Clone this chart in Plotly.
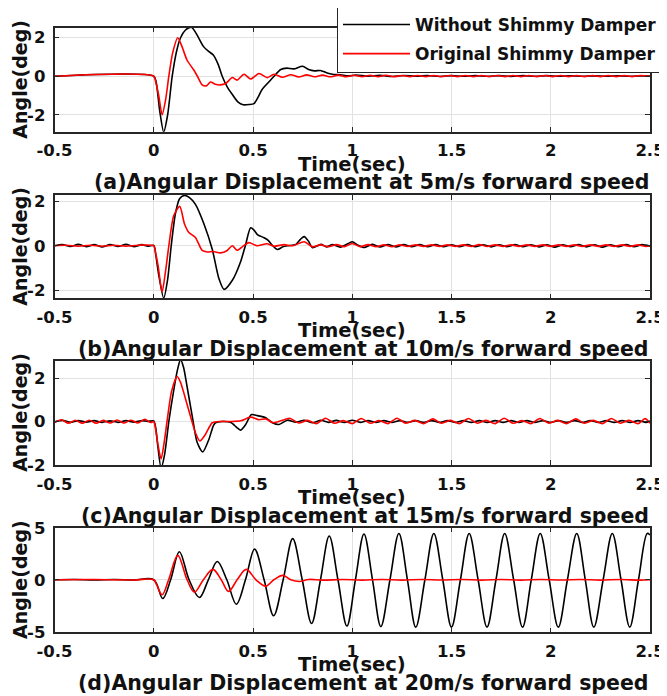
import plotly.graph_objects as go

# the page body has an 8px margin, so the figure is laid out in window pixels minus OFF
WIN_W, WIN_H, OFF = 667, 696, 8
W, H = WIN_W - OFF, WIN_H - OFF
FONT = "DejaVu Sans"

TIME_TICKS = [-0.5, 0, 0.5, 1, 1.5, 2, 2.5]
TIME_LABELS = ["-0.5", "0", "0.5", "1", "1.5", "2", "2.5"]
LEGEND_NAMES = ["Without Shimmy Damper", "Original Shimmy Damper"]
CAPTIONS = [
    "(a)Angular Displacement at 5m/s forward speed",
    "(b)Angular Displacement at 10m/s forward speed",
    "(c)Angular Displacement at 15m/s forward speed",
    "(d)Angular Displacement at 20m/s forward speed",
]
ANGLE_TICKS = [[-2, 0, 2], [-2, 0, 2], [-2, 0, 2], [-5, 0, 5]]
ANGLE_LABELS = [["-2", "0", "2"], ["-2", "0", "2"], ["-2", "0", "2"], ["-5", "0", "5"]]
ANGLE_RANGES = [[-2.88, 2.52], [-2.35, 2.27], [-2.005, 2.8], [-5.05, 5.005]]

# (time [s], angle [deg])
P1_WITHOUT = [
    (-0.5, 0), (0.0, 0), (0.012, -0.3), (0.03, -1.8), (0.05, -2.9), (0.07, -2.0),
    (0.093, 0.0), (0.115, 1.3), (0.135, 2.0), (0.16, 2.4), (0.19, 2.55), (0.215, 2.2),
    (0.25, 1.55), (0.275, 1.3), (0.3, 1.1), (0.325, 0.6), (0.345, 0.0), (0.37, -0.55),
    (0.396, -0.95), (0.425, -1.35), (0.45, -1.48), (0.48, -1.47), (0.505, -1.42),
    (0.525, -1.1), (0.545, -0.7), (0.575, -0.35), (0.606, 0.0), (0.64, 0.35),
    (0.67, 0.42), (0.705, 0.38), (0.75, 0.52), (0.78, 0.35), (0.81, 0.28), (0.84, 0.3),
    (0.87, 0.18), (0.9, 0.1), (0.94, 0.08), (0.98, 0.02), (1.02, 0.06), (1.08, 0.0),
    (1.14, 0.05), (1.2, -0.01), (1.26, 0.04), (1.32, 0.0), (1.38, 0.04), (1.44, -0.01),
    (1.5, 0.03), (1.56, 0.0), (1.62, 0.03), (1.68, 0.0), (1.74, 0.03), (1.8, -0.01),
    (1.86, 0.03), (1.92, 0.0), (1.98, 0.03), (2.04, 0.0), (2.1, 0.02), (2.16, 0.0),
    (2.22, 0.02), (2.28, 0.0), (2.34, 0.02), (2.4, 0.0), (2.46, 0.02), (2.5, 0.01),
]
P1_ORIGINAL = [
    (-0.5, 0), (0.0, 0), (0.01, -0.3), (0.025, -1.0), (0.042, -2.0), (0.06, -1.2),
    (0.076, 0.0), (0.095, 1.2), (0.121, 2.0), (0.14, 1.6), (0.168, 0.83), (0.2, 0.35),
    (0.22, 0.0), (0.244, -0.45), (0.265, -0.5), (0.286, -0.3), (0.31, -0.42),
    (0.335, -0.45), (0.362, -0.38), (0.396, -0.07), (0.42, -0.2), (0.455, 0.1),
    (0.488, -0.14), (0.53, 0.14), (0.572, -0.07), (0.606, 0.1), (0.648, -0.05),
    (0.69, 0.08), (0.73, -0.04), (0.77, 0.07), (0.81, -0.03), (0.85, 0.06), (0.89, -0.03),
    (0.93, 0.06), (0.97, -0.03), (1.01, 0.05), (1.05, -0.03), (1.09, 0.05), (1.13, -0.03),
    (1.17, 0.05), (1.21, -0.03), (1.25, 0.04), (1.29, -0.02), (1.33, 0.04), (1.37, -0.02),
    (1.41, 0.04), (1.45, -0.02), (1.49, 0.04), (1.53, -0.02), (1.57, 0.04), (1.61, -0.02),
    (1.65, 0.04), (1.69, -0.02), (1.73, 0.04), (1.77, -0.02), (1.81, 0.04), (1.85, -0.02),
    (1.89, 0.04), (1.93, -0.02), (1.97, 0.04), (2.01, -0.02), (2.05, 0.04), (2.09, -0.02),
    (2.13, 0.04), (2.17, -0.02), (2.21, 0.04), (2.25, -0.02), (2.29, 0.04), (2.33, -0.02),
    (2.37, 0.04), (2.41, -0.02), (2.45, 0.04), (2.5, 0.0),
]

P2_WITHOUT = [
    (-0.5, 0.0), (-0.46, 0.05), (-0.42, -0.03), (-0.38, 0.06), (-0.34, -0.04), (-0.3, 0.05),
    (-0.26, -0.05), (-0.22, 0.05), (-0.18, -0.03), (-0.14, 0.06), (-0.1, -0.04), (-0.06, 0.05),
    (-0.03, -0.02), (0.0, 0.02), (0.01, -0.4), (0.025, -1.3), (0.05, -2.35), (0.07, -1.5),
    (0.088, 0.0), (0.109, 1.43), (0.13, 2.1), (0.155, 2.25), (0.18, 2.15), (0.21, 1.85),
    (0.253, 0.97), (0.295, -0.17), (0.328, -1.46), (0.354, -1.95), (0.396, -1.54),
    (0.438, -0.7), (0.463, 0.06), (0.488, 0.8), (0.505, 0.7), (0.522, 0.5), (0.556, 0.36),
    (0.575, 0.25), (0.6, 0.0), (0.623, -0.17), (0.65, -0.05), (0.673, 0.0), (0.716, 0.06),
    (0.74, 0.3), (0.758, 0.41), (0.78, 0.2), (0.8, -0.09), (0.842, 0.06), (0.87, -0.05),
    (0.9, 0.05), (0.94, -0.06), (0.98, 0.1), (1.0, 0.18), (1.03, 0.02), (1.06, -0.08),
    (1.1, 0.06), (1.14, -0.05), (1.18, 0.05), (1.22, -0.05), (1.26, 0.05), (1.3, -0.04),
    (1.34, 0.05), (1.38, -0.04), (1.42, 0.05), (1.46, -0.04), (1.5, 0.04), (1.54, -0.04),
    (1.58, 0.05), (1.62, -0.04), (1.66, 0.04), (1.7, -0.05), (1.74, 0.04), (1.78, -0.04),
    (1.82, 0.05), (1.86, -0.04), (1.9, 0.04), (1.94, -0.05), (1.98, 0.04), (2.02, -0.06),
    (2.06, 0.04), (2.1, -0.04), (2.14, 0.05), (2.18, -0.05), (2.22, 0.04), (2.26, -0.06),
    (2.3, 0.04), (2.34, -0.04), (2.38, 0.05), (2.42, -0.04), (2.46, 0.05), (2.5, -0.02),
]
P2_ORIGINAL = [
    (-0.5, 0.0), (-0.44, 0.02), (-0.38, -0.02), (-0.32, 0.02), (-0.26, -0.02), (-0.2, 0.02),
    (-0.14, -0.02), (-0.08, 0.02), (0.0, 0.0), (0.01, -0.35), (0.022, -0.9), (0.042, -2.07),
    (0.06, -1.1), (0.076, 0.0), (0.101, 1.35), (0.131, 1.76), (0.155, 0.97), (0.177, 0.59),
    (0.21, 0.37), (0.244, -0.21), (0.27, -0.28), (0.3, -0.26), (0.337, -0.32), (0.37, -0.21),
    (0.396, 0.0), (0.42, -0.2), (0.455, 0.02), (0.48, 0.14), (0.52, 0.0), (0.57, 0.09),
    (0.606, -0.02), (0.657, 0.05), (0.7, 0.0), (0.758, 0.18), (0.8, -0.05), (0.84, 0.04),
    (0.88, -0.04), (0.92, 0.05), (0.96, -0.04), (1.0, 0.1), (1.04, -0.04), (1.08, 0.05),
    (1.12, -0.04), (1.16, 0.04), (1.2, -0.04), (1.24, 0.04), (1.28, -0.03), (1.32, 0.04),
    (1.36, -0.03), (1.4, 0.04), (1.44, -0.03), (1.48, 0.04), (1.52, -0.03), (1.56, 0.04),
    (1.6, -0.03), (1.64, 0.05), (1.68, -0.03), (1.72, 0.04), (1.76, -0.03), (1.8, 0.04),
    (1.84, -0.03), (1.88, 0.04), (1.92, -0.03), (1.96, 0.04), (2.0, -0.03), (2.04, 0.04),
    (2.08, -0.03), (2.12, 0.04), (2.16, -0.03), (2.2, 0.04), (2.24, -0.03), (2.28, 0.04),
    (2.32, -0.03), (2.36, 0.04), (2.4, -0.03), (2.44, 0.04), (2.48, -0.03), (2.5, 0.0),
]

P3_WITHOUT = [
    (-0.5, -0.02), (-0.46, 0.05), (-0.42, -0.04), (-0.38, 0.04), (-0.34, -0.03), (-0.3, 0.04),
    (-0.26, -0.04), (-0.22, 0.03), (-0.18, -0.04), (-0.14, 0.04), (-0.1, -0.03), (-0.06, 0.04),
    (-0.03, 0.0), (0.0, 0.03), (0.01, -0.3), (0.02, -1.1), (0.037, -2.15), (0.055, -1.5),
    (0.076, 0.0), (0.101, 1.46), (0.12, 2.4), (0.135, 2.85), (0.15, 2.5), (0.168, 1.6),
    (0.194, 0.24), (0.219, -0.97), (0.247, -1.4), (0.278, -0.82), (0.3, -0.2), (0.311, -0.06),
    (0.345, 0.0), (0.387, -0.04), (0.42, -0.29), (0.438, -0.4), (0.463, -0.14), (0.492, 0.32),
    (0.522, 0.27), (0.564, 0.17), (0.598, -0.06), (0.631, -0.14), (0.673, 0.06), (0.716, -0.03),
    (0.758, 0.06), (0.8, -0.06), (0.842, 0.06), (0.88, -0.04), (0.92, 0.05), (0.96, -0.05),
    (1.0, 0.06), (1.04, -0.04), (1.08, 0.04), (1.12, -0.05), (1.16, 0.04), (1.2, -0.04),
    (1.24, 0.04), (1.28, -0.04), (1.32, 0.04), (1.36, -0.04), (1.4, 0.04), (1.44, -0.04),
    (1.48, 0.04), (1.52, -0.04), (1.56, 0.04), (1.6, -0.04), (1.64, 0.04), (1.68, -0.04),
    (1.72, 0.04), (1.76, -0.04), (1.8, 0.04), (1.84, -0.04), (1.88, 0.04), (1.92, -0.04),
    (1.96, 0.04), (2.0, -0.04), (2.04, 0.04), (2.08, -0.04), (2.12, 0.04), (2.16, -0.04),
    (2.2, 0.04), (2.24, -0.04), (2.28, 0.04), (2.32, -0.04), (2.36, 0.04), (2.4, -0.04),
    (2.44, 0.04), (2.48, -0.04), (2.5, 0.02),
]
P3_ORIGINAL = [
    (-0.5, -0.05), (-0.465, 0.08), (-0.43, -0.08), (-0.395, 0.06), (-0.36, -0.08),
    (-0.325, 0.06), (-0.29, -0.08), (-0.255, 0.05), (-0.22, -0.07), (-0.185, 0.07),
    (-0.15, -0.07), (-0.115, 0.06), (-0.08, -0.07), (-0.045, 0.1), (-0.015, -0.05), (0.0, 0.0),
    (0.01, -0.4), (0.022, -1.1), (0.037, -1.73), (0.052, -1.0), (0.067, 0.0), (0.09, 1.4),
    (0.118, 2.07), (0.135, 1.8), (0.152, 1.3), (0.185, 0.24), (0.21, -0.52), (0.232, -0.9),
    (0.26, -0.6), (0.295, -0.06), (0.337, 0.0), (0.387, 0.0), (0.438, 0.03), (0.488, 0.2),
    (0.53, 0.08), (0.565, 0.12), (0.6, -0.06), (0.64, 0.03), (0.685, 0.15), (0.73, -0.07),
    (0.775, 0.05), (0.82, -0.1), (0.865, 0.15), (0.91, -0.08), (0.955, 0.04), (1.0, -0.1),
    (1.045, 0.14), (1.09, -0.08), (1.135, 0.04), (1.18, -0.1), (1.225, 0.15), (1.27, -0.08),
    (1.315, 0.05), (1.36, -0.1), (1.405, 0.12), (1.45, -0.08), (1.495, 0.05), (1.54, -0.1),
    (1.585, 0.14), (1.63, -0.08), (1.675, 0.05), (1.72, -0.1), (1.765, 0.15), (1.81, -0.08),
    (1.855, 0.04), (1.9, -0.1), (1.945, 0.14), (1.99, -0.08), (2.035, 0.05), (2.08, -0.1),
    (2.125, 0.12), (2.17, -0.08), (2.215, 0.05), (2.26, -0.1), (2.305, 0.14), (2.35, -0.08),
    (2.395, 0.05), (2.44, -0.1), (2.475, 0.13), (2.5, -0.08),
]

P4_WITHOUT = [
    (-0.5, 0.0), (-0.4, 0.03), (-0.3, -0.02), (-0.2, 0.03), (-0.1, -0.02), (0.0, 0.0),
    (0.045, -1.8), (0.085, 0.0), (0.129, 2.7), (0.178, 0.0), (0.23, -1.7), (0.275, 0.0),
    (0.32, 1.75), (0.368, 0.0), (0.416, -2.35), (0.462, 0.0), (0.508, 2.95), (0.556, 0.0),
    (0.604, -3.45), (0.652, 0.0), (0.70, 3.95), (0.748, 0.0), (0.795, -4.2), (0.84, 0.0),
    (0.884, 4.2), (0.928, 0.0), (0.973, -4.45), (1.016, 0.0), (1.059, 4.4), (1.102, 0.0),
    (1.144, -4.5), (1.19, 0.0), (1.235, 4.45), (1.278, 0.0), (1.32, -4.55), (1.366, 0.0),
    (1.411, 4.45), (1.456, 0.0), (1.50, -4.55), (1.545, 0.0), (1.589, 4.45), (1.634, 0.0),
    (1.679, -4.55), (1.724, 0.0), (1.768, 4.45), (1.813, 0.0), (1.858, -4.55), (1.902, 0.0),
    (1.947, 4.45), (1.992, 0.0), (2.038, -4.55), (2.084, 0.0), (2.131, 4.45), (2.174, 0.0),
    (2.217, -4.55), (2.264, 0.0), (2.31, 4.45), (2.354, 0.0), (2.398, -4.55), (2.442, 0.0),
    (2.486, 4.45), (2.5, 4.3),
]
P4_ORIGINAL = [
    (-0.5, 0.0), (-0.3, 0.02), (-0.1, -0.02), (0.0, 0.0), (0.015, -0.5), (0.042, -1.44),
    (0.075, 0.0), (0.121, 2.34), (0.168, 0.0), (0.205, -1.19), (0.25, 0.0), (0.298, 1.0),
    (0.34, 0.0), (0.377, -1.12), (0.42, 0.0), (0.466, 1.0), (0.515, 0.0), (0.564, -0.61),
    (0.605, 0.0), (0.651, 0.42), (0.69, 0.0), (0.735, -0.16), (0.78, 0.03), (0.85, -0.03),
    (0.95, 0.02), (1.05, -0.03), (1.15, 0.02), (1.25, -0.03), (1.35, 0.03), (1.45, -0.02),
    (1.55, 0.03), (1.65, -0.03), (1.75, 0.02), (1.85, -0.03), (1.95, 0.03), (2.05, -0.02),
    (2.15, 0.03), (2.25, -0.03), (2.35, 0.02), (2.45, -0.03), (2.5, 0.0),
]

PANELS = [
    (P1_WITHOUT, P1_ORIGINAL),
    (P2_WITHOUT, P2_ORIGINAL),
    (P3_WITHOUT, P3_ORIGINAL),
    (P4_WITHOUT, P4_ORIGINAL),
]
SMOOTHING = [0.7, 0.7, 0.7, 1.0]

# window-pixel geometry of the four axes boxes (top, bottom) and x extent
PANEL_PX = [(27.7, 131.7), (195, 298.3), (360.7, 465), (527.7, 632.3)]
X_PX = (54.5, 650)


def fx(px):
    return (px - OFF) / W


def fy(px):
    return 1 - (px - OFF) / H


fig = go.Figure()

for i, (without, original) in enumerate(PANELS):
    n = "" if i == 0 else str(i + 1)
    for series, color, name in [(without, "#000000", LEGEND_NAMES[0]),
                                (original, "#ff0000", LEGEND_NAMES[1])]:
        t, a = zip(*series)
        fig.add_trace(go.Scatter(
            x=t, y=a, mode="lines", name=name,
            line=dict(color=color, width=1.6, shape="spline", smoothing=SMOOTHING[i]),
            showlegend=(i == 0), legendgroup=name,
            xaxis="x" + n, yaxis="y" + n,
        ))

axis_style = dict(
    showline=True, linecolor="#262626", linewidth=1.5, mirror="ticks",
    ticks="inside", ticklen=5, tickcolor="#262626", tickwidth=1,
    showgrid=True, gridcolor="#e2e2e2", gridwidth=1, zeroline=False,
    tickfont=dict(family=FONT, size=16.5, color="#111111", weight="bold"),
)

layout = {}
annotations = []
for i in range(4):
    n = "" if i == 0 else str(i + 1)
    top, bottom = PANEL_PX[i]
    layout["xaxis" + n] = dict(
        axis_style, domain=[fx(X_PX[0]), fx(X_PX[1])], anchor="y" + n,
        range=[-0.5, 2.5], tickmode="array", tickvals=TIME_TICKS, ticktext=TIME_LABELS,
        ticklabelstandoff=3,
    )
    layout["yaxis" + n] = dict(
        axis_style, domain=[fy(bottom), fy(top)], anchor="x" + n,
        range=ANGLE_RANGES[i], tickmode="array", tickvals=ANGLE_TICKS[i],
        ticktext=ANGLE_LABELS[i], ticklabelstandoff=4,
    )
    annotations.append(dict(
        text="Angle(deg)", xref="paper", yref="paper", x=fx(20), y=fy((top + bottom) / 2),
        xanchor="center", yanchor="middle", textangle=-90, showarrow=False,
        font=dict(family=FONT, size=19, color="#111111", weight="bold"),
    ))
    annotations.append(dict(
        text="Time(sec)", xref="paper", yref="paper", x=fx(352), y=fy(bottom + 32.5),
        xanchor="center", yanchor="middle", showarrow=False,
        font=dict(family=FONT, size=19.5, color="#111111", weight="bold"),
    ))
    annotations.append(dict(
        text=CAPTIONS[i], xref="paper", yref="paper", x=fx(651), y=fy(bottom + 50.5),
        xanchor="right", yanchor="middle", showarrow=False,
        font=dict(family=FONT, size=20.5, color="#111111", weight="bold"),
    ))

fig.update_layout(
    **layout,
    annotations=annotations,
    width=W, height=H,
    margin=dict(l=0, r=0, t=0, b=0, autoexpand=False),
    paper_bgcolor="white", plot_bgcolor="white",
    showlegend=True,
    legend=dict(
        x=fx(337), y=fy(6), xanchor="left", yanchor="top",
        bgcolor="white", bordercolor="#262626", borderwidth=1,
        font=dict(family=FONT, size=17, color="#111111", weight="bold"),
        itemwidth=67, tracegroupgap=4,
    ),
)

fig.write_html("out.html")
